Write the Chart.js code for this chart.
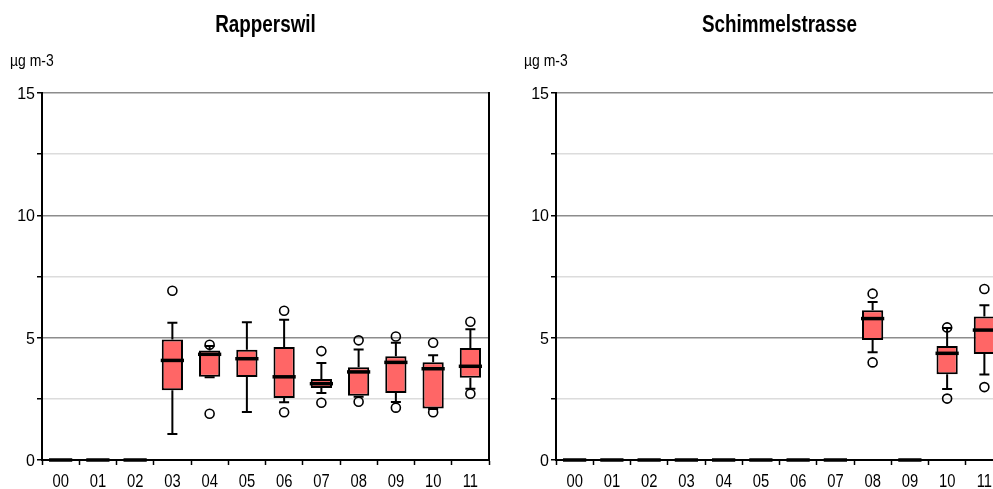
<!DOCTYPE html>
<html>
<head>
<meta charset="utf-8">
<script src="https://cdn.jsdelivr.net/npm/chart.js@4/dist/chart.umd.min.js"></script>
<style>
  html, body { margin: 0; padding: 0; background: #fff; overflow: hidden; }
  #wrap { position: relative; width: 993px; height: 489px; overflow: hidden; }
  #left { position: absolute; left: 0; top: 0; width: 496px; height: 489px; }
  #right { position: absolute; left: 496px; top: 0; width: 514px; height: 489px; }
</style>
</head>
<body>
<div id="wrap">
  <div id="left"><canvas id="rapperswil"></canvas></div>
  <div id="right"><canvas id="schimmelstrasse"></canvas></div>
</div>
<script>
const years = ['00', '01', '02', '03', '04', '05', '06', '07', '08', '09', '10', '11'];
const yLabels = [0, 5, 10, 15];
const unitLabel = 'µg m-3';

// Rapperswil: whisker ends, quartiles, median, outliers per year
const rapLow = [0, 0, 0, 1.06, 3.38, 1.96, 2.36, 2.74, 2.59, 2.37, 2.08, 2.91];
const rapQ1 = [0, 0, 0, 2.85, 3.40, 3.39, 2.53, 2.94, 2.63, 2.74, 2.11, 3.36];
const rapMedian = [0, 0, 0, 4.07, 4.32, 4.14, 3.40, 3.12, 3.60, 3.99, 3.73, 3.83];
const rapQ3 = [0, 0, 0, 4.92, 4.48, 4.51, 4.62, 3.31, 3.79, 4.24, 4.00, 4.58];
const rapHigh = [0, 0, 0, 5.61, 4.66, 5.63, 5.73, 3.96, 4.52, 4.79, 4.28, 5.34];
const rapOutliers = [[], [], [], [6.92], [4.71, 1.89], [], [6.10, 1.95], [4.45, 2.34], [4.89, 2.38], [5.05, 2.14], [4.79, 1.95], [5.65, 2.71]];

// Schimmelstrasse
const schLow = [0, 0, 0, 0, 0, 0, 0, 0, 4.40, 0, 2.90, 3.49];
const schQ1 = [0, 0, 0, 0, 0, 0, 0, 0, 4.90, 0, 3.50, 4.33];
const schMedian = [0, 0, 0, 0, 0, 0, 0, 0, 5.78, 0, 4.36, 5.31];
const schQ3 = [0, 0, 0, 0, 0, 0, 0, 0, 6.12, 0, 4.66, 5.87];
const schHigh = [0, 0, 0, 0, 0, 0, 0, 0, 6.46, 0, 5.39, 6.32];
const schOutliers = [[], [], [], [], [], [], [], [], [6.80, 3.99], [], [5.42, 2.51], [6.99, 2.98]];

const FONT = "'Liberation Sans', Arial, sans-serif";
const NARROW = 0.82; // squeeze text horizontally, narrow-font look

function narrowText(ctx, text, x, y, font, align, squeeze) {
  ctx.save();
  ctx.font = font;
  ctx.textAlign = align;
  ctx.textBaseline = 'alphabetic';
  ctx.translate(x, y);
  ctx.scale(squeeze, 1);
  ctx.fillText(text, 0, 0);
  ctx.restore();
}

// whiskers, caps and median lines on top of the floating bars
const whiskerPlugin = {
  id: 'whiskers',
  afterDatasetsDraw(chart) {
    const st = chart.options.plugins.whiskers;
    const xs = chart.scales.x, ys = chart.scales.y;
    const bars = chart.getDatasetMeta(0).data;
    const ctx = chart.ctx;
    ctx.save();
    ctx.strokeStyle = '#000';
    for (let i = 0; i < years.length; i++) {
      const x = xs.getPixelForValue(i);
      const w = bars[i].width;
      const yLow = ys.getPixelForValue(st.low[i]);
      const yQ1 = ys.getPixelForValue(st.q1[i]);
      const yQ3 = ys.getPixelForValue(st.q3[i]);
      const yHigh = ys.getPixelForValue(st.high[i]);
      const yMed = ys.getPixelForValue(st.median[i]);
      ctx.lineWidth = 2;
      ctx.beginPath();
      ctx.moveTo(x, yQ3); ctx.lineTo(x, yHigh);
      ctx.moveTo(x, yQ1); ctx.lineTo(x, yLow);
      ctx.moveTo(x - 5, yHigh); ctx.lineTo(x + 5, yHigh);
      ctx.moveTo(x - 5, yLow); ctx.lineTo(x + 5, yLow);
      ctx.stroke();
      ctx.lineWidth = 3.5;
      ctx.beginPath();
      ctx.moveTo(x - w / 2 - 1, yMed); ctx.lineTo(x + w / 2 + 1, yMed);
      ctx.stroke();
    }
    ctx.restore();
  }
};

// station name, unit and the axis labels
const textPlugin = {
  id: 'texts',
  afterDraw(chart) {
    const area = chart.chartArea;
    const xs = chart.scales.x, ys = chart.scales.y;
    const ctx = chart.ctx;
    ctx.fillStyle = '#000';
    narrowText(ctx, chart.options.plugins.texts.title, (area.left + area.right) / 2, 32, 'bold 23px ' + FONT, 'center', NARROW);
    narrowText(ctx, unitLabel, area.left - 32, 66, '17px ' + FONT, 'left', NARROW);
    years.forEach((yr, i) => {
      narrowText(ctx, yr, xs.getPixelForValue(i), 487, '18px ' + FONT, 'center', NARROW);
    });
    yLabels.forEach(v => {
      narrowText(ctx, String(v), area.left - 7, ys.getPixelForValue(v) + 6, '16px ' + FONT, 'right', 1);
    });
  }
};

function makeBoxChart(id, title, low, q1, median, q3, high, outliers, padLeft) {
  const outlierPoints = years.flatMap((yr, i) => outliers[i].map(v => ({ x: yr, y: v })));
  return new Chart(document.getElementById(id), {
    type: 'bar',
    data: {
      labels: years,
      datasets: [
        {
          data: years.map((_, i) => [q1[i], q3[i]]),
          backgroundColor: '#ff6666',
          borderColor: '#000',
          borderWidth: 2,
          borderSkipped: false,
          barPercentage: 0.57,
          categoryPercentage: 1
        },
        {
          type: 'scatter',
          data: outlierPoints,
          pointRadius: 4.5,
          pointBorderWidth: 1.6,
          borderColor: '#000',
          backgroundColor: 'rgba(255,255,255,0)'
        }
      ]
    },
    options: {
      responsive: true,
      maintainAspectRatio: false,
      animation: false,
      layout: { padding: { top: 93, left: padLeft, right: 0, bottom: 0 } },
      plugins: {
        legend: { display: false },
        title: { display: false },
        tooltip: { enabled: false },
        whiskers: { low, q1, median, q3, high },
        texts: { title }
      },
      scales: {
        x: {
          type: 'category',
          offset: true,
          grid: { offset: true, drawOnChartArea: false, tickLength: 5, tickColor: '#000', tickWidth: 1.5 },
          border: { color: '#000', width: 2 },
          ticks: { color: 'rgba(0,0,0,0)', font: { family: FONT, size: 15 }, maxRotation: 0, autoSkip: false },
          afterFit: s => { s.height = 29; }
        },
        y: {
          min: 0,
          max: 15,
          ticks: { stepSize: 2.5, color: 'rgba(0,0,0,0)' },
          grid: {
            color: c => (c.tick.value === 0 ? 'rgba(0,0,0,0)' : c.tick.value % 5 === 0 ? '#8c8c8c' : '#dcdcdc'),
            lineWidth: 1.5,
            tickLength: 5,
            tickColor: '#000',
            tickWidth: 1.5
          },
          border: { color: '#000', width: 2 },
          afterFit: s => { s.width = 42; }
        },
        yRight: {
          position: 'right',
          min: 0,
          max: 15,
          ticks: { display: false },
          grid: { drawOnChartArea: false, drawTicks: false },
          border: { color: '#000', width: 2 },
          afterFit: s => { s.width = 7; }
        }
      }
    },
    plugins: [whiskerPlugin, textPlugin]
  });
}

makeBoxChart('rapperswil', 'Rapperswil', rapLow, rapQ1, rapMedian, rapQ3, rapHigh, rapOutliers, 0);
makeBoxChart('schimmelstrasse', 'Schimmelstrasse', schLow, schQ1, schMedian, schQ3, schHigh, schOutliers, 18);
</script>
</body>
</html>
